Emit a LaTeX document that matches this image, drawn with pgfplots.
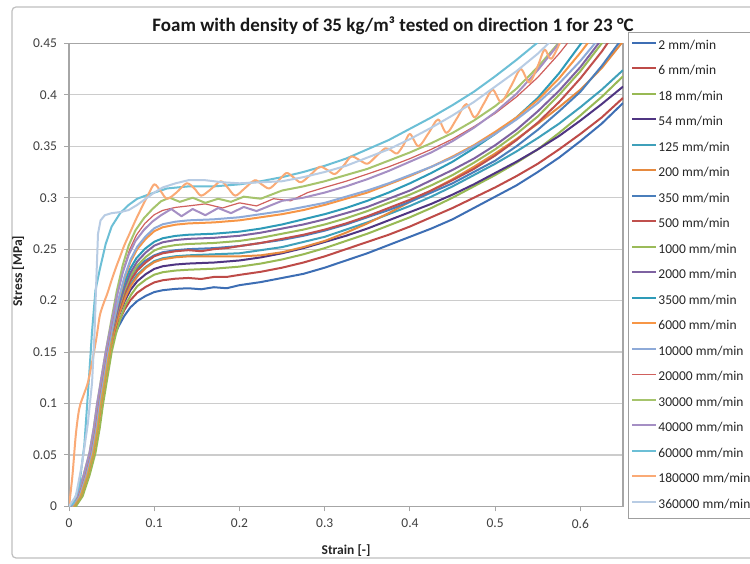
\documentclass[border=0pt]{standalone}
\usepackage{fontspec}
\setmainfont{Carlito}
\usepackage{pgfplots}
\pgfplotsset{compat=1.18}
\definecolor{cA}{HTML}{3D6EB4}
\definecolor{cB}{HTML}{BE4B48}
\definecolor{cC}{HTML}{98B954}
\definecolor{cD}{HTML}{4F3582}
\definecolor{cE}{HTML}{3FA0BA}
\definecolor{cF}{HTML}{E68A3F}
\definecolor{cG}{HTML}{4A7EBB}
\definecolor{cH}{HTML}{C0504D}
\definecolor{cI}{HTML}{9BBB59}
\definecolor{cJ}{HTML}{7E62A1}
\definecolor{cK}{HTML}{2E9BB8}
\definecolor{cL}{HTML}{F79646}
\definecolor{cM}{HTML}{8EAAD8}
\definecolor{cN}{HTML}{D0605D}
\definecolor{cO}{HTML}{A6C46C}
\definecolor{cP}{HTML}{A58FC4}
\definecolor{cQ}{HTML}{6CBFD6}
\definecolor{cR}{HTML}{FAAA76}
\definecolor{cS}{HTML}{B8CCE4}
\begin{document}
\begin{tikzpicture}[x=1pt,y=1pt]
\path[use as bounding box] (0,0) rectangle (750,564);
\fill[white] (0,0) rectangle (750,564);
\draw[gray!50, line width=1.2pt, rounded corners=4pt] (12,6) rectangle (775,557);
\node[font=\bfseries\fontsize{19}{21}\selectfont, text=black!90] at (393,538) {Foam with density of 35 kg/m³ tested on direction 1 for 23 °C};
\begin{axis}[
  at={(81,56)}, anchor=south west, scale only axis,
  width=554pt, height=463pt,
  xmin=0, xmax=0.65, ymin=0, ymax=0.45,
  xtick={0,0.1,0.2,0.3,0.4,0.5,0.6},
  ytick={0,0.05,0.1,0.15,0.2,0.25,0.3,0.35,0.4,0.45},
  scaled ticks=false,
  xticklabel style={/pgf/number format/fixed,/pgf/number format/precision=2, yshift=-4pt},
  yticklabel style={/pgf/number format/fixed,/pgf/number format/precision=2, xshift=-3.5pt},
  /pgf/number format/assume math mode=true,
  ticklabel style={font=\fontsize{13.5}{13.5}\selectfont, text=black!75},
  tick align=outside, major tick length=5pt,
  xtick pos=bottom, ytick pos=left,
  tick style={draw=gray!70, line width=1pt},
  ymajorgrids, major grid style={draw=gray!40, line width=1.3pt},
  axis line style={draw=gray!70, line width=1.2pt},
  xlabel={\textbf{Strain [-]}}, ylabel={\textbf{Stress [MPa]}},
  label style={font=\fontsize{13.5}{13.5}\selectfont, text=black!85},
  xlabel style={at={(axis description cs:0.5,-0.0955)}, anchor=center},
  ylabel style={at={(axis description cs:-0.092,0.508)}, anchor=center, rotate=0},
  legend style={at={(1.00903,1.02376)}, anchor=north west, draw=gray!75, line width=0.9pt, fill=white,
    inner xsep=3pt, inner ysep=7.5pt, font=\fontsize{13.5}{13.5}\selectfont, text=black!85,
    row sep=13.5pt, column sep=1pt, nodes={inner sep=0pt, text height=9pt, text depth=3pt}},
  legend cell align=left,
  legend image code/.code={\draw[#1] (0pt,3.5pt) -- (24pt,3.5pt);},
  every axis plot/.append style={line width=2pt, line join=round},
]
% 2 mm/min
\addplot[cA] coordinates {(0,0)(0.004,0)(0.012,0.01)(0.02,0.03)(0.027,0.052)(0.032,0.076)(0.036,0.1)(0.041,0.125)(0.046,0.148)(0.052,0.1636)(0.058,0.1748)(0.065,0.1853)(0.072,0.1934)(0.08,0.1996)(0.09,0.2046)(0.1,0.2083)(0.11,0.2101)(0.125,0.2114)(0.14,0.212)(0.155,0.211)(0.17,0.213)(0.185,0.212)(0.2,0.215)(0.225,0.218)(0.25,0.222)(0.275,0.226)(0.3,0.232)(0.325,0.239)(0.35,0.246)(0.375,0.254)(0.4,0.262)(0.425,0.27)(0.45,0.279)(0.475,0.29)(0.5,0.301)(0.525,0.312)(0.55,0.325)(0.575,0.339)(0.6,0.355)(0.625,0.372)(0.65,0.392)};
% 6 mm/min
\addplot[cB] coordinates {(0,0)(0.005,0)(0.013,0.01)(0.021,0.03)(0.028,0.052)(0.033,0.076)(0.037,0.1)(0.042,0.125)(0.047,0.15)(0.052,0.1658)(0.058,0.1788)(0.065,0.191)(0.072,0.2004)(0.08,0.2076)(0.09,0.2134)(0.1,0.2177)(0.11,0.2198)(0.125,0.2213)(0.14,0.222)(0.155,0.221)(0.17,0.223)(0.185,0.223)(0.2,0.225)(0.225,0.228)(0.25,0.232)(0.275,0.237)(0.3,0.243)(0.325,0.25)(0.35,0.257)(0.375,0.264)(0.4,0.272)(0.425,0.281)(0.45,0.29)(0.475,0.3)(0.5,0.31)(0.525,0.321)(0.55,0.333)(0.575,0.347)(0.6,0.362)(0.625,0.378)(0.65,0.397)};
% 18 mm/min
\addplot[cC] coordinates {(0,0)(0.008,0)(0.016,0.01)(0.024,0.03)(0.031,0.052)(0.036,0.076)(0.04,0.1)(0.045,0.125)(0.05,0.15)(0.055,0.1676)(0.06,0.182)(0.066,0.1956)(0.073,0.206)(0.08,0.214)(0.09,0.2204)(0.1,0.2252)(0.11,0.2276)(0.125,0.2292)(0.14,0.23)(0.17,0.231)(0.2,0.233)(0.225,0.236)(0.25,0.24)(0.275,0.245)(0.3,0.251)(0.325,0.258)(0.35,0.265)(0.375,0.273)(0.4,0.281)(0.425,0.29)(0.45,0.3)(0.475,0.311)(0.5,0.322)(0.525,0.334)(0.55,0.347)(0.575,0.363)(0.6,0.38)(0.625,0.398)(0.65,0.418)};
% 54 mm/min
\addplot[cD] coordinates {(0,0)(0.004,0)(0.012,0.01)(0.02,0.03)(0.027,0.052)(0.032,0.076)(0.036,0.1)(0.041,0.125)(0.046,0.15)(0.052,0.1689)(0.058,0.1844)(0.065,0.199)(0.072,0.2102)(0.08,0.2188)(0.09,0.2257)(0.1,0.2308)(0.11,0.2334)(0.125,0.2351)(0.14,0.236)(0.17,0.237)(0.2,0.239)(0.225,0.242)(0.25,0.246)(0.275,0.251)(0.3,0.257)(0.325,0.263)(0.35,0.27)(0.375,0.278)(0.4,0.286)(0.425,0.294)(0.45,0.303)(0.475,0.313)(0.5,0.324)(0.525,0.335)(0.55,0.347)(0.575,0.36)(0.6,0.375)(0.625,0.391)(0.65,0.408)};
% 125 mm/min
\addplot[cE] coordinates {(0,0)(0.003,0)(0.011,0.01)(0.019,0.03)(0.026,0.052)(0.031,0.076)(0.035,0.1)(0.04,0.125)(0.045,0.15)(0.052,0.1707)(0.058,0.1876)(0.065,0.2036)(0.072,0.2158)(0.08,0.2252)(0.09,0.2327)(0.1,0.2384)(0.11,0.2412)(0.125,0.2431)(0.14,0.244)(0.17,0.245)(0.2,0.246)(0.225,0.249)(0.25,0.252)(0.275,0.257)(0.3,0.262)(0.325,0.269)(0.35,0.276)(0.375,0.284)(0.4,0.292)(0.425,0.301)(0.45,0.311)(0.475,0.322)(0.5,0.333)(0.525,0.345)(0.55,0.358)(0.575,0.372)(0.6,0.388)(0.625,0.405)(0.65,0.424)};
% 200 mm/min
\addplot[cF] coordinates {(0,0)(0.006,0)(0.014,0.01)(0.022,0.03)(0.029,0.052)(0.034,0.076)(0.038,0.1)(0.043,0.125)(0.048,0.15)(0.053,0.1705)(0.059,0.1872)(0.066,0.203)(0.073,0.2151)(0.081,0.2244)(0.09,0.2318)(0.1,0.2374)(0.11,0.2402)(0.125,0.2421)(0.14,0.243)(0.17,0.243)(0.2,0.243)(0.225,0.244)(0.25,0.247)(0.275,0.252)(0.3,0.258)(0.325,0.266)(0.35,0.275)(0.375,0.285)(0.4,0.296)(0.425,0.307)(0.45,0.318)(0.475,0.33)(0.5,0.343)(0.525,0.357)(0.55,0.372)(0.575,0.388)(0.6,0.405)(0.625,0.426)(0.65,0.452)};
% 350 mm/min
\addplot[cG] coordinates {(0,0)(0.002,0)(0.01,0.01)(0.018,0.03)(0.025,0.052)(0.03,0.076)(0.034,0.1)(0.039,0.125)(0.044,0.15)(0.05,0.172)(0.056,0.19)(0.063,0.207)(0.07,0.22)(0.078,0.23)(0.088,0.238)(0.1,0.244)(0.11,0.247)(0.125,0.249)(0.14,0.25)(0.17,0.251)(0.2,0.253)(0.225,0.256)(0.25,0.259)(0.275,0.263)(0.3,0.268)(0.325,0.274)(0.35,0.281)(0.375,0.288)(0.4,0.296)(0.425,0.305)(0.45,0.314)(0.475,0.325)(0.5,0.336)(0.525,0.35)(0.55,0.366)(0.575,0.384)(0.6,0.403)(0.625,0.428)(0.65,0.456)};
% 500 mm/min
\addplot[cH] coordinates {(0,0)(0.004,0)(0.012,0.01)(0.02,0.03)(0.027,0.052)(0.032,0.076)(0.036,0.1)(0.041,0.125)(0.046,0.15)(0.052,0.1718)(0.058,0.1896)(0.065,0.2064)(0.072,0.2193)(0.08,0.2292)(0.09,0.2371)(0.1,0.2431)(0.11,0.246)(0.125,0.248)(0.14,0.249)(0.155,0.248)(0.17,0.25)(0.185,0.251)(0.2,0.253)(0.225,0.256)(0.25,0.26)(0.275,0.264)(0.3,0.269)(0.325,0.275)(0.35,0.282)(0.375,0.29)(0.4,0.298)(0.425,0.307)(0.45,0.317)(0.475,0.328)(0.5,0.341)(0.525,0.356)(0.55,0.373)(0.575,0.393)(0.6,0.416)(0.625,0.442)(0.65,0.472)};
% 1000 mm/min
\addplot[cI] coordinates {(0,0)(0.005,0)(0.013,0.01)(0.021,0.03)(0.028,0.052)(0.033,0.076)(0.037,0.1)(0.042,0.125)(0.047,0.15)(0.052,0.1731)(0.058,0.192)(0.065,0.2099)(0.072,0.2235)(0.08,0.234)(0.09,0.2424)(0.1,0.2487)(0.11,0.2519)(0.125,0.254)(0.14,0.255)(0.17,0.256)(0.2,0.258)(0.225,0.261)(0.25,0.265)(0.275,0.269)(0.3,0.274)(0.325,0.28)(0.35,0.287)(0.375,0.295)(0.4,0.303)(0.425,0.312)(0.45,0.322)(0.475,0.334)(0.5,0.347)(0.525,0.362)(0.55,0.379)(0.575,0.4)(0.6,0.423)(0.625,0.45)(0.65,0.479)};
% 2000 mm/min
\addplot[cJ] coordinates {(0,0)(0.003,0)(0.011,0.01)(0.019,0.03)(0.026,0.052)(0.031,0.076)(0.035,0.1)(0.04,0.125)(0.045,0.15)(0.052,0.1742)(0.058,0.194)(0.065,0.2127)(0.072,0.227)(0.08,0.238)(0.09,0.2468)(0.1,0.2534)(0.11,0.2567)(0.125,0.2589)(0.14,0.26)(0.17,0.261)(0.2,0.263)(0.225,0.266)(0.25,0.27)(0.275,0.274)(0.3,0.279)(0.325,0.285)(0.35,0.291)(0.375,0.299)(0.4,0.307)(0.425,0.317)(0.45,0.327)(0.475,0.338)(0.5,0.351)(0.525,0.366)(0.55,0.384)(0.575,0.404)(0.6,0.427)(0.625,0.454)(0.65,0.484)};
% 3500 mm/min
\addplot[cK] coordinates {(0,0)(0.002,0)(0.01,0.01)(0.018,0.03)(0.025,0.052)(0.03,0.076)(0.034,0.1)(0.039,0.125)(0.044,0.15)(0.051,0.1751)(0.057,0.1956)(0.064,0.215)(0.071,0.2298)(0.079,0.2412)(0.089,0.2503)(0.1,0.2572)(0.11,0.2606)(0.125,0.2629)(0.14,0.264)(0.17,0.265)(0.2,0.267)(0.225,0.27)(0.25,0.274)(0.275,0.279)(0.3,0.284)(0.325,0.29)(0.35,0.297)(0.375,0.305)(0.4,0.314)(0.425,0.324)(0.45,0.335)(0.475,0.348)(0.5,0.362)(0.525,0.378)(0.55,0.397)(0.575,0.421)(0.6,0.449)(0.625,0.479)};
% 6000 mm/min
\addplot[cL] coordinates {(0,0)(0.004,0)(0.012,0.01)(0.02,0.03)(0.027,0.052)(0.032,0.076)(0.036,0.1)(0.041,0.125)(0.046,0.15)(0.052,0.1775)(0.058,0.2)(0.065,0.2213)(0.072,0.2375)(0.08,0.25)(0.09,0.26)(0.1,0.2675)(0.11,0.2713)(0.125,0.2738)(0.14,0.275)(0.17,0.276)(0.2,0.278)(0.225,0.281)(0.25,0.284)(0.275,0.288)(0.3,0.293)(0.325,0.299)(0.35,0.305)(0.375,0.313)(0.4,0.321)(0.425,0.33)(0.45,0.34)(0.475,0.351)(0.5,0.364)(0.525,0.378)(0.55,0.395)(0.575,0.416)(0.6,0.441)(0.625,0.468)};
% 10000 mm/min
\addplot[cM] coordinates {(0,0)(0.003,0)(0.011,0.01)(0.019,0.03)(0.026,0.052)(0.031,0.076)(0.035,0.1)(0.04,0.125)(0.045,0.15)(0.052,0.1782)(0.058,0.2012)(0.065,0.223)(0.072,0.2396)(0.08,0.2524)(0.09,0.2626)(0.1,0.2703)(0.11,0.2742)(0.125,0.2767)(0.14,0.278)(0.17,0.279)(0.2,0.281)(0.225,0.284)(0.25,0.287)(0.275,0.291)(0.3,0.295)(0.325,0.301)(0.35,0.307)(0.375,0.314)(0.4,0.322)(0.425,0.33)(0.45,0.339)(0.475,0.35)(0.5,0.362)(0.525,0.376)(0.55,0.392)(0.575,0.411)(0.6,0.433)(0.625,0.458)(0.65,0.484)};
% 20000 mm/min
\addplot[cN, line width=1.2pt] coordinates {(0,0)(0.002,0)(0.01,0.01)(0.018,0.03)(0.025,0.052)(0.03,0.076)(0.034,0.1)(0.039,0.125)(0.044,0.15)(0.051,0.1812)(0.057,0.2068)(0.064,0.2309)(0.071,0.2494)(0.079,0.2636)(0.089,0.275)(0.1,0.2835)(0.11,0.2877)(0.125,0.2906)(0.14,0.292)(0.16,0.294)(0.18,0.29)(0.2,0.295)(0.22,0.292)(0.24,0.299)(0.26,0.297)(0.28,0.305)(0.3,0.31)(0.325,0.316)(0.35,0.323)(0.375,0.33)(0.4,0.338)(0.425,0.347)(0.45,0.357)(0.475,0.369)(0.5,0.382)(0.525,0.398)(0.55,0.417)(0.575,0.44)(0.6,0.466)};
% 30000 mm/min
\addplot[cO] coordinates {(0,0)(0.001,0)(0.009,0.01)(0.017,0.03)(0.024,0.052)(0.029,0.076)(0.033,0.1)(0.038,0.125)(0.043,0.15)(0.05,0.1826)(0.056,0.2092)(0.063,0.2344)(0.07,0.2536)(0.078,0.2684)(0.088,0.2802)(0.098,0.2891)(0.108,0.2966)(0.118,0.3)(0.13,0.296)(0.145,0.3)(0.16,0.295)(0.175,0.299)(0.19,0.296)(0.205,0.301)(0.225,0.299)(0.25,0.307)(0.275,0.311)(0.3,0.316)(0.325,0.322)(0.35,0.328)(0.375,0.336)(0.4,0.344)(0.425,0.353)(0.45,0.363)(0.475,0.375)(0.5,0.389)(0.525,0.406)(0.55,0.427)(0.575,0.451)(0.6,0.477)};
% 40000 mm/min
\addplot[cP] coordinates {(0,0)(0.001,0)(0.009,0.01)(0.017,0.03)(0.024,0.052)(0.029,0.076)(0.033,0.1)(0.038,0.125)(0.043,0.15)(0.05,0.1797)(0.056,0.204)(0.063,0.227)(0.07,0.2445)(0.078,0.258)(0.088,0.2688)(0.098,0.2769)(0.108,0.283)(0.12,0.289)(0.132,0.282)(0.145,0.289)(0.16,0.283)(0.175,0.29)(0.19,0.285)(0.205,0.291)(0.22,0.287)(0.25,0.297)(0.275,0.3)(0.3,0.305)(0.325,0.311)(0.35,0.318)(0.375,0.326)(0.4,0.335)(0.425,0.344)(0.45,0.355)(0.475,0.368)(0.5,0.383)(0.525,0.401)(0.55,0.424)(0.575,0.45)(0.6,0.478)};
% 60000 mm/min
\addplot[cQ] coordinates {(0,0)(0.005,0.003)(0.012,0.02)(0.018,0.06)(0.023,0.12)(0.027,0.17)(0.031,0.21)(0.036,0.23)(0.043,0.255)(0.05,0.272)(0.06,0.285)(0.07,0.293)(0.08,0.299)(0.093,0.303)(0.115,0.309)(0.14,0.311)(0.17,0.311)(0.2,0.313)(0.225,0.316)(0.25,0.32)(0.275,0.325)(0.3,0.331)(0.325,0.338)(0.35,0.347)(0.375,0.356)(0.4,0.367)(0.425,0.378)(0.45,0.39)(0.475,0.403)(0.5,0.418)(0.525,0.434)(0.55,0.451)(0.575,0.47)};
% 180000 mm/min
\addplot[cR, smooth, tension=0.5] coordinates {(0,0)(0.004,0.03)(0.008,0.07)(0.012,0.095)(0.017,0.108)(0.022,0.12)(0.027,0.14)(0.032,0.163)(0.036,0.185)(0.04,0.196)(0.045,0.207)(0.05,0.22)(0.055,0.232)(0.06,0.243)(0.065,0.254)(0.071,0.265)(0.078,0.278)(0.085,0.29)(0.093,0.303)(0.1,0.313)(0.107,0.307)(0.115,0.299)(0.126,0.305)(0.138,0.314)(0.147,0.309)(0.155,0.302)(0.166,0.308)(0.178,0.316)(0.186,0.31)(0.195,0.302)(0.206,0.309)(0.218,0.317)(0.226,0.313)(0.235,0.309)(0.245,0.316)(0.255,0.324)(0.263,0.32)(0.272,0.315)(0.283,0.322)(0.294,0.33)(0.303,0.327)(0.312,0.323)(0.322,0.331)(0.331,0.34)(0.34,0.337)(0.35,0.333)(0.36,0.34)(0.371,0.348)(0.378,0.346)(0.385,0.343)(0.393,0.352)(0.4,0.362)(0.41,0.35)(0.422,0.363)(0.433,0.376)(0.443,0.363)(0.455,0.377)(0.466,0.391)(0.476,0.378)(0.487,0.392)(0.497,0.405)(0.507,0.393)(0.519,0.409)(0.53,0.425)(0.54,0.412)(0.55,0.428)(0.558,0.444)(0.566,0.435)(0.58,0.458)};
% 360000 mm/min
\addplot[cS] coordinates {(0,0)(0.008,0.01)(0.015,0.04)(0.022,0.08)(0.027,0.12)(0.03,0.17)(0.032,0.22)(0.034,0.265)(0.037,0.278)(0.042,0.283)(0.05,0.285)(0.06,0.286)(0.07,0.288)(0.08,0.293)(0.09,0.299)(0.1,0.305)(0.11,0.31)(0.125,0.314)(0.14,0.317)(0.16,0.317)(0.18,0.315)(0.2,0.314)(0.225,0.315)(0.25,0.316)(0.275,0.32)(0.3,0.325)(0.325,0.331)(0.35,0.339)(0.375,0.347)(0.4,0.357)(0.425,0.368)(0.45,0.38)(0.475,0.393)(0.5,0.408)(0.525,0.423)(0.55,0.44)(0.565,0.452)(0.58,0.465)};
\legend{2 mm/min,6 mm/min,18 mm/min,54 mm/min,125 mm/min,200 mm/min,350 mm/min,500 mm/min,1000 mm/min,2000 mm/min,3500 mm/min,6000 mm/min,10000 mm/min,20000 mm/min,30000 mm/min,40000 mm/min,60000 mm/min,180000 mm/min,360000 mm/min}
\end{axis}
\end{tikzpicture}
\end{document}
